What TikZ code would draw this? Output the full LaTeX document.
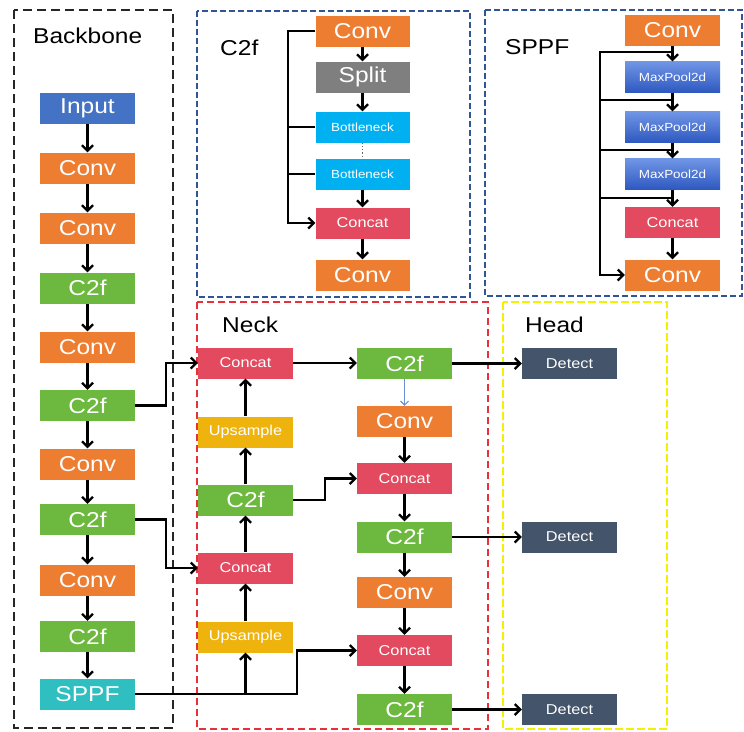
\documentclass[tikz,border=0pt]{standalone}
\usepackage{fontspec}
\setmainfont{Liberation Sans}[FakeStretch=1.14]
\usetikzlibrary{arrows.meta}
\definecolor{convc}{HTML}{ED7D31}
\definecolor{c2fc}{HTML}{6DB93F}
\definecolor{inpc}{HTML}{4472C4}
\definecolor{sppfc}{HTML}{2FBFC0}
\definecolor{splitc}{HTML}{7F7F7F}
\definecolor{bnc}{HTML}{00B0F0}
\definecolor{catc}{HTML}{E34A5F}
\definecolor{upc}{HTML}{EFB30E}
\definecolor{detc}{HTML}{44546A}
\definecolor{mptop}{HTML}{7196E6}
\definecolor{mpbot}{HTML}{2E58C0}
\definecolor{boxblue}{HTML}{2F5597}
\definecolor{boxred}{HTML}{E8303A}
\definecolor{boxyel}{HTML}{F2F200}
\definecolor{thinblue}{HTML}{6C8FD8}
\begin{document}
\begin{tikzpicture}[x=1pt,y=-1pt,
  blk/.style={rectangle, minimum width=95pt, minimum height=31pt, inner sep=0pt, text=white, font=\fontsize{21.5}{21}\selectfont},
  medf/.style={font=\fontsize{14.3}{15}\selectfont},
  smlf/.style={font=\fontsize{11.8}{12}\selectfont},
  convn/.style={blk, fill=convc},
  c2fn/.style={blk, fill=c2fc},
  inpn/.style={blk, fill=inpc},
  sppfn/.style={blk, fill=sppfc},
  splitn/.style={blk, fill=splitc},
  bnn/.style={blk, smlf, fill=bnc},
  catn/.style={blk, medf, fill=catc},
  upn/.style={blk, medf, fill=upc},
  detn/.style={blk, medf, fill=detc},
  mpn/.style={blk, smlf, top color=mptop, bottom color=mpbot},
  lab/.style={anchor=west, inner sep=0pt, text=black, font=\fontsize{21.5}{22}\selectfont},
  wire/.style={draw=black, line width=2.2pt},
  arr/.style={wire, -{Straight Barb[length=5.5pt,width=11pt]}},
  barr/.style={draw=thinblue, line width=1.1pt, -{Straight Barb[length=4pt,width=8pt]}},
  bbx/.style={draw=black!85, line width=1.8pt, dash pattern=on 9pt off 5pt},
  bluebox/.style={draw=boxblue, line width=1.8pt, dash pattern=on 6pt off 3pt},
  redbox/.style={draw=boxred, line width=1.5pt, dash pattern=on 7pt off 4pt},
  yelbox/.style={draw=boxyel, line width=1.5pt, dash pattern=on 8pt off 3pt}
]
\useasboundingbox (0,0) rectangle (744,731);

% containers
\draw[bbx] (14,10) rectangle (173,728);
\draw[bluebox] (197,11) rectangle (470,297);
\draw[bluebox] (485,10) rectangle (742,296);
\draw[redbox] (197,302) rectangle (488,729);
\draw[yelbox] (503,302) rectangle (667,729);

% labels
\node[lab] (lb) at (33,36) {Backbone};
\node[lab] (lc) at (220,48) {C2f};
\node[lab] (ls) at (505,47) {SPPF};
\node[lab] (ln) at (222,325) {Neck};
\node[lab] (lh) at (525,325) {Head};

% backbone
\node[inpn] (in) at (87.5,108) {Input};
\node[convn] (b1) at (87.5,168) {Conv};
\node[convn] (b2) at (87.5,228) {Conv};
\node[c2fn] (b3) at (87.5,288) {C2f};
\node[convn] (b4) at (87.5,347) {Conv};
\node[c2fn] (b5) at (87.5,405.5) {C2f};
\node[convn] (b6) at (87.5,464) {Conv};
\node[c2fn] (b7) at (87.5,519.5) {C2f};
\node[convn] (b8) at (87.5,580) {Conv};
\node[c2fn] (b9) at (87.5,636.5) {C2f};
\node[sppfn] (b10) at (87.5,694) {SPPF};

% C2f module
\node[convn, minimum width=94pt] (c1) at (362.5,31) {Conv};
\node[splitn, minimum width=94pt] (c2) at (362.5,77) {Split};
\node[bnn, minimum width=94pt] (c3) at (362.5,127) {Bottleneck};
\node[bnn, minimum width=94pt] (c4) at (362.5,174) {Bottleneck};
\node[catn, minimum width=94pt] (c5) at (362.5,223) {Concat};
\node[convn, minimum width=94pt] (c6) at (362.5,275) {Conv};

% SPPF module
\node[convn] (s1) at (672.5,30.5) {Conv};
\node[mpn] (s2) at (672.5,77) {MaxPool2d};
\node[mpn] (s3) at (672.5,127) {MaxPool2d};
\node[mpn] (s4) at (672.5,174) {MaxPool2d};
\node[catn] (s5) at (672.5,222.5) {Concat};
\node[convn] (s6) at (672.5,275) {Conv};

% neck
\node[catn] (n1) at (245.5,363) {Concat};
\node[upn] (n2) at (245.5,432) {Upsample};
\node[c2fn] (n3) at (245.5,500) {C2f};
\node[catn] (n4) at (245.5,568) {Concat};
\node[upn] (n5) at (245.5,637) {Upsample};
\node[c2fn] (r1) at (404.5,363.5) {C2f};
\node[convn] (r2) at (404.5,421.5) {Conv};
\node[catn] (r3) at (404.5,478.5) {Concat};
\node[c2fn] (r4) at (404.5,537) {C2f};
\node[convn] (r5) at (404.5,592.5) {Conv};
\node[catn] (r6) at (404.5,650.5) {Concat};
\node[c2fn] (r7) at (404.5,709.5) {C2f};

% head
\node[detn] (d1) at (569.5,363.5) {Detect};
\node[detn] (d2) at (569.5,537) {Detect};
\node[detn] (d3) at (569.5,709.5) {Detect};

% backbone arrows
\foreach \a/\b in {in/b1,b1/b2,b2/b3,b3/b4,b4/b5,b5/b6,b6/b7,b7/b8,b8/b9,b9/b10}
  \draw[arr] (\a) -- (\b);

% C2f module arrows
\foreach \a/\b in {c1/c2,c2/c3,c4/c5,c5/c6}
  \draw[arr] (\a) -- (\b);
\draw[black!60, line width=1.2pt, dotted] (c3.south) -- (c4.north);
\draw[arr] (c1.west) -- ++(-27,0) |- (c5.west);
\draw[wire] (c3.west) -- ++(-27,0);
\draw[wire] (c4.west) -- ++(-27,0);

% SPPF module arrows
\foreach \a/\b in {s1/s2,s2/s3,s3/s4,s4/s5,s5/s6}
  \draw[arr] (\a) -- (\b);
\draw[arr] ([yshift=-6pt]s1.south) -- ++(-72.5,0) |- (s6.west);
\draw[wire] ([yshift=-7pt]s2.south) -- ++(-72.5,0);
\draw[wire] ([yshift=-7pt]s3.south) -- ++(-72.5,0);
\draw[wire] ([yshift=-8pt]s4.south) -- ++(-72.5,0);

% backbone -> neck
\draw[arr] (b5.east) -- ++(31,0) |- (n1.west);
\draw[arr] (b7.east) -- ++(31,0) |- (n4.west);
\draw[arr] (b10.east) -- ++(162,0) |- (r6.west);
\draw[arr] (b10.east -| n5.south) -- (n5.south);

% neck
\foreach \a/\b in {n5/n4,n4/n3,n3/n2,n2/n1}
  \draw[arr] (\a.north) -- (\b.south);
\draw[arr] (n1.east) -- (n1.east -| r1.west);
\draw[arr] (n3.east) -- ++(32,0) |- (r3.west);
\draw[barr] (r1.south) -- (r2.north);
\foreach \a/\b in {r2/r3,r3/r4,r4/r5,r5/r6,r6/r7}
  \draw[arr] (\a) -- (\b);

% neck -> head
\draw[arr] (r1.east) -- (d1.west);
\draw[arr] (r4.east) -- (d2.west);
\draw[arr] (r7.east) -- (d3.west);
\end{tikzpicture}
\end{document}
